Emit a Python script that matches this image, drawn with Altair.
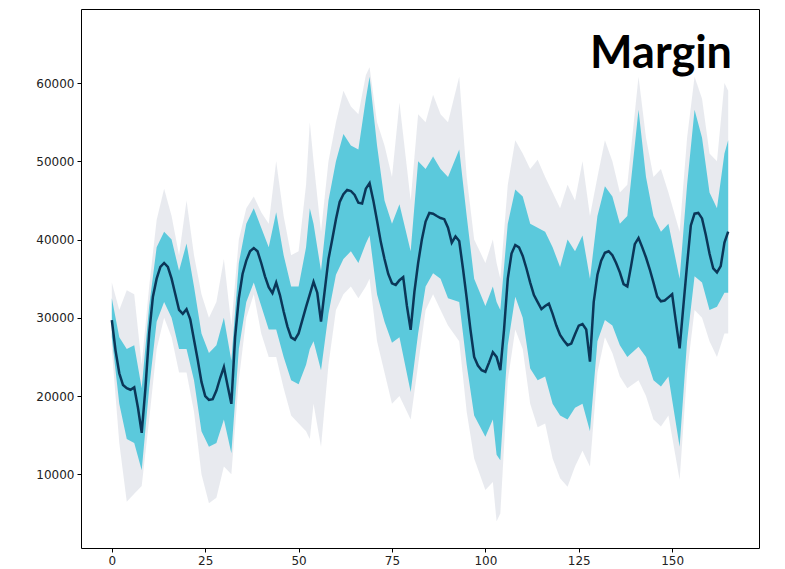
import altair as alt
import pandas as pd

# ---- mean line ----
mean_x = list(range(0, 166))
mean_y = [
    29700, 25800, 22900, 21400, 21000, 20800, 21100, 18500, 15300, 21000,
    28000, 32700, 35000, 36500, 37000, 36500, 35000, 33000, 31000, 30500,
    31100, 29800, 27200, 24600, 21800, 20000, 19500, 19600, 20700, 22300,
    23700, 21300, 19000, 27500, 32500, 35600, 37300, 38500, 38900, 38500,
    37000, 35300, 33900, 33150, 34500, 32900, 30800, 28900, 27500, 27200,
    28000, 29700, 31400, 33000, 34600, 33200, 29500, 33500, 37500, 40000,
    42600, 44800, 45800, 46350, 46200, 45700, 44700, 44600, 46500, 47200,
    45000, 42400, 39700, 37500, 35600, 34400, 34200, 34800, 35200, 31500,
    28450, 33300, 37000, 40000, 42300, 43400, 43300, 43000, 42750, 42600,
    41500, 39600, 40400, 39800, 36300, 32500, 28500, 25000, 23900, 23300,
    23100, 24300, 25600, 25000, 23300, 28500, 35000, 38200, 39300, 39000,
    37900, 36300, 34500, 32900, 32000, 31100, 31500, 31800, 30500, 29000,
    27800, 27100, 26500, 26700, 27900, 29000, 29200, 28500, 24400, 32000,
    35500, 37300, 38300, 38500, 38000, 37000, 35800, 34300, 34000, 36600,
    39400, 40200, 39000, 37700, 36200, 34500, 32700, 32100, 32200, 32600,
    33000, 29500, 26100, 31500, 36800, 41800, 43300, 43400, 42700, 40600,
    38200, 36300, 35800, 36600, 39600, 41000,
]

# ---- bands (central cyan band and grey simulation envelope) ----
band_x = [0, 2, 4, 6, 8, 10, 12, 14, 16, 18, 20, 22, 24, 26, 28, 30, 32, 34,
          36, 38, 40, 42, 44, 46, 48, 50, 52, 53, 54, 56, 58, 60, 62, 64, 66,
          68, 69, 71, 73, 75, 77, 80, 82, 84, 86, 88, 90, 93, 95, 97, 100,
          102, 103, 104, 106, 108, 110, 112, 114, 116, 118, 120, 122, 124,
          126, 128, 130, 132, 134, 136, 138, 141, 143, 145, 147, 149, 152,
          154, 156, 158, 160, 162, 164, 165]
cyan_lo = [27500, 19000, 14500, 14000, 10500, 21000, 29500, 32000, 30000, 26000,
           26000, 22000, 15500, 13500, 14000, 17000, 12700, 26000, 32000, 34500,
           31500, 28500, 28500, 25000, 22000, 21500, 24000, 26000, 27000, 23300,
           30500, 35500, 37500, 38500, 37000, 39500, 40500, 33000, 29500, 26800,
           27500, 20500, 28000, 34000, 35700, 35000, 32500, 32000, 24000, 17500,
           14800, 17000, 12500, 11800, 26500, 32700, 30000, 23500, 22000, 22500,
           19000, 17500, 17000, 18500, 19000, 15500, 27000, 29700, 29000, 26500,
           25000, 26300, 25000, 22000, 21200, 22500, 13500, 27000, 35300, 34500,
           31000, 31400, 33200, 33200]
cyan_hi = [32500, 27500, 26000, 26500, 21000, 31500, 39000, 41000, 40000, 36000,
           39500, 34000, 28000, 25500, 26500, 30000, 24500, 37000, 42000, 44000,
           41500, 39000, 43500, 38000, 34000, 34000, 39000, 44000, 42000, 36000,
           45000, 50000, 53500, 52000, 51500, 58000, 60800, 52000, 45000, 42000,
           44500, 38500, 50000, 49000, 50600, 49000, 48000, 51500, 43000, 35000,
           31500, 34000, 32000, 31000, 42000, 46400, 45500, 42000, 41500, 41000,
           39000, 36500, 40000, 38500, 40500, 35000, 43000, 46800, 45500, 42000,
           43000, 56600, 48000, 43000, 41000, 42000, 35000, 47000, 56600, 53000,
           46000, 44000, 51000, 52700]
grey_lo = [26000, 14000, 6500, 7500, 8500, 17000, 26000, 30000, 27500, 23000,
           23000, 18000, 10000, 6300, 7000, 11000, 10000, 22000, 30000, 33000,
           28000, 25000, 25000, 21000, 17500, 16500, 15500, 14500, 19000, 13500,
           24000, 31000, 33000, 34000, 32500, 34000, 35000, 27000, 23000, 19000,
           20000, 17000, 24000, 31000, 33000, 31000, 29000, 27000, 18000, 12000,
           8000, 9000, 4000, 5000, 22000, 28500, 26000, 19000, 16000, 16500,
           12000, 9500, 8400, 11000, 13000, 11000, 23000, 27500, 25500, 22500,
           21000, 22000, 20000, 17000, 16100, 17500, 9300, 23000, 31000, 30000,
           27000, 25000, 28000, 28000]
grey_hi = [34500, 31000, 33500, 33000, 24000, 34000, 42500, 46500, 43000, 38000,
           45000, 38000, 33000, 30000, 32000, 37500, 29000, 40000, 44000, 45500,
           43500, 42000, 50000, 43000, 38000, 38500, 47000, 55000, 50000, 41000,
           50000, 55000, 59000, 57000, 56000, 61000, 62000, 55000, 52000, 48000,
           57500, 45000, 56000, 55000, 58500, 56000, 55000, 60800, 48000, 40000,
           37000, 40000, 37000, 35000, 47000, 52700, 51000, 49000, 50200, 48000,
           46000, 44000, 47000, 45000, 50000, 43000, 48000, 52700, 50000, 46000,
           47000, 60800, 53000, 48000, 49000, 46000, 41000, 53000, 60800, 58000,
           51000, 50000, 60000, 59000]

x_ticks = [0, 25, 50, 75, 100, 125, 150]
y_ticks = [10000, 20000, 30000, 40000, 50000, 60000]
label_text = "Margin"

mean_df = pd.DataFrame({"x": mean_x, "mean": mean_y})
band_df = pd.DataFrame({"x": band_x, "clo": cyan_lo, "chi": cyan_hi,
                        "glo": grey_lo, "ghi": grey_hi})

xs = alt.Scale(domain=[-8.25, 173.25], nice=False, zero=False)
ys = alt.Scale(domain=[575, 69460], nice=False, zero=False)

x_axis = alt.Axis(values=x_ticks, title=None, grid=False, domain=False,
                  tickColor="#000", tickSize=4, labelPadding=3,
                  labelFontSize=12, labelColor="#222", labelFont="DejaVu Sans")
y_axis = alt.Axis(values=y_ticks, title=None, grid=False, domain=False,
                  format="d", tickColor="#000", tickSize=4, labelPadding=3,
                  labelFontSize=12, labelColor="#222", labelFont="DejaVu Sans")

grey = alt.Chart(band_df).mark_area(color="#cdd0dc", opacity=0.45).encode(
    x=alt.X("x:Q", scale=xs, axis=x_axis),
    y=alt.Y("glo:Q", scale=ys, axis=y_axis),
    y2="ghi:Q",
)
cyan = alt.Chart(band_df).mark_area(color="#5bc9dc", opacity=1).encode(
    x=alt.X("x:Q", scale=xs),
    y=alt.Y("clo:Q", scale=ys),
    y2="chi:Q",
)
line = alt.Chart(mean_df).mark_line(color="#0b3658", strokeWidth=2.5).encode(
    x=alt.X("x:Q", scale=xs),
    y=alt.Y("mean:Q", scale=ys),
)
text = alt.Chart(pd.DataFrame({"t": [label_text]})).mark_text(
    font="Lato", fontWeight="bold", fontSize=45, align="right",
    baseline="alphabetic", color="#000",
).encode(text="t:N", x=alt.value(651), y=alt.value(59))

chart = (grey + cyan + line + text).properties(
    width=678, height=539,
    padding={"left": 73, "top": 1, "right": 5, "bottom": 20},
    autosize=alt.AutoSizeParams(type="none"),
).configure_view(stroke="#000", strokeWidth=1)

chart.save("out.html", embed_options={"renderer": "svg", "actions": False})
